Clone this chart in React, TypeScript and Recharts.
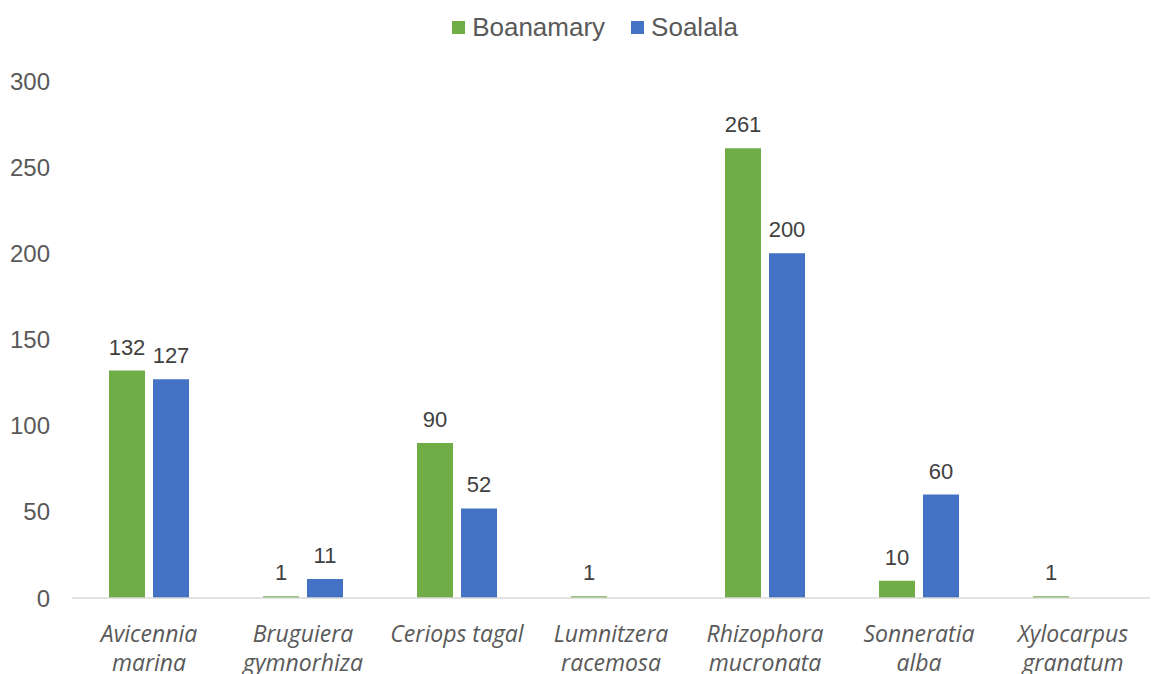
import { BarChart, Bar, XAxis, YAxis, LabelList } from "recharts";

const species = [
  "Avicennia marina",
  "Bruguiera gymnorhiza",
  "Ceriops tagal",
  "Lumnitzera racemosa",
  "Rhizophora mucronata",
  "Sonneratia alba",
  "Xylocarpus granatum",
];
const boanamary = [132, 1, 90, 1, 261, 10, 1];
const soalala = [127, 11, 52, 0, 200, 60, 0];
const yTicks = [0, 50, 100, 150, 200, 250, 300];
const seriesNames = ["Boanamary", "Soalala"];
const seriesColors = ["#70AD47", "#4472C4"];

const data = species.map((name, i) => ({
  name,
  Boanamary: boanamary[i],
  Soalala: soalala[i],
}));

function SpeciesTick(props: any) {
  const { x, y, payload } = props;
  const name: string = payload.value;
  const lines = name === "Ceriops tagal" ? [name] : name.split(" ");
  return (
    <g transform={`translate(${x},${y})`}>
      {lines.map((l, i) => (
        <text
          key={i}
          x={0}
          y={36 + i * 29}
          textAnchor="middle"
          fill="#595959"
          fontSize={23}
          fontStyle="italic"
          fontFamily="'Open Sans', sans-serif"
        >
          {l}
        </text>
      ))}
    </g>
  );
}

const hideZero = (v: any) => (v === 0 ? "" : v);

export default function App() {
  return (
    <div style={{ position: "absolute", left: 0, top: 0, width: 1152, height: 674, background: "#fff" }}>
      {/* legend */}
      <div
        style={{
          position: "absolute",
          top: 12,
          left: 0,
          width: 1152,
          display: "flex",
          justifyContent: "center",
          gap: 26,
          fontFamily: "'Liberation Sans', Arial, sans-serif",
          fontSize: 26,
          lineHeight: "30px",
          color: "#595959",
          paddingLeft: 38,
          boxSizing: "border-box",
        }}
      >
        {seriesNames.map((s, i) => (
          <span key={s} style={{ display: "flex", alignItems: "center" }}>
            <span style={{ width: 13, height: 13, background: seriesColors[i], marginRight: 7, display: "inline-block" }} />
            {s}
          </span>
        ))}
      </div>
      <BarChart
        width={1152}
        height={674}
        data={data}
        margin={{ top: 81, right: 2, bottom: 0, left: 0 }}
        barSize={36}
        barGap={8}
        style={{ fontFamily: "'Liberation Sans', Arial, sans-serif" }}
      >
        <XAxis
          dataKey="name"
          interval={0}
          height={76}
          axisLine={{ stroke: "#D9D9D9", strokeWidth: 1.5 }}
          tickLine={false}
          tick={<SpeciesTick />}
        />
        <YAxis
          width={72}
          domain={[0, 300]}
          ticks={yTicks}
          axisLine={false}
          tickLine={false}
          tickSize={0}
          tickMargin={22}
          tick={{ fill: "#595959", fontSize: 24 }}
        />
        <Bar dataKey="Boanamary" fill={seriesColors[0]} isAnimationActive={false}>
          <LabelList dataKey="Boanamary" position="top" offset={16} fill="#404040" fontSize={22} formatter={hideZero} />
        </Bar>
        <Bar dataKey="Soalala" fill={seriesColors[1]} isAnimationActive={false}>
          <LabelList dataKey="Soalala" position="top" offset={16} fill="#404040" fontSize={22} formatter={hideZero} />
        </Bar>
      </BarChart>
    </div>
  );
}
